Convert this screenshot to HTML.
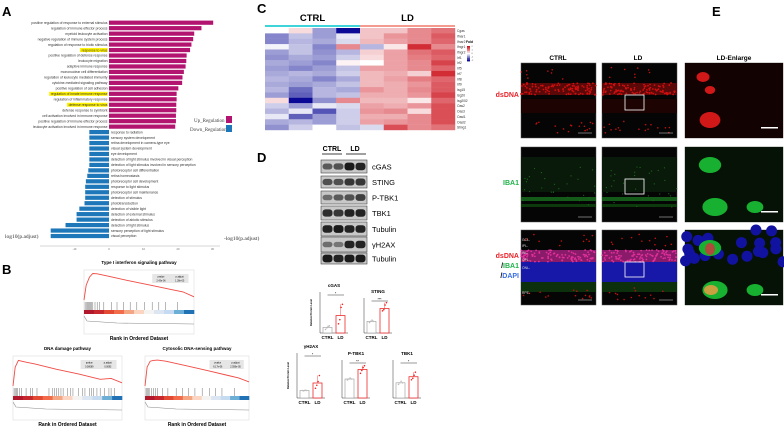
<!DOCTYPE html>
<html><head><meta charset="utf-8"><style>
body{margin:0;background:#fff}
svg{display:block;font-family:"Liberation Sans",sans-serif}
</style></head><body>
<svg id="fig" width="784" height="426" viewBox="0 0 784 426" xmlns="http://www.w3.org/2000/svg">
<g id="gA"></g>
<g id="gB"></g>
<g id="gC"></g>
<g id="gD"></g>
<g id="gE"></g>
</svg>
<script>
const NS="http://www.w3.org/2000/svg";
function mk(p,tag,at,txt){const e=document.createElementNS(NS,tag);for(const k in at)e.setAttribute(k,at[k]);if(txt!==undefined)e.textContent=txt;p.appendChild(e);return e;}

// ---------- Panel A data ----------
const upTerms=["positive regulation of response to external stimulus","regulation of immune effector process","myeloid leukocyte activation","negative regulation of immune system process","regulation of response to biotic stimulus","response to virus","positive regulation of defense response","leukocyte migration","adaptive immune response","mononuclear cell differentiation","regulation of leukocyte mediated immunity","cytokine-mediated signaling pathway","positive regulation of cell adhesion","regulation of innate immune response","regulation of inflammatory response","defense response to virus","defense response to symbiont","cell activation involved in immune response","positive regulation of immune effector process","leukocyte activation involved in immune response"];
const upValues=[30.2,26.8,24.7,24.4,23.9,23.5,22.5,22.4,22.2,21.7,21.3,21.2,20.1,19.6,19.6,19.5,19.5,19.4,19.4,19.2];
const upHighlight=[5,13,15];
const downTerms=["response to radiation","sensory system development","retina development in camera-type eye","visual system development","eye development","detection of light stimulus involved in visual perception","detection of light stimulus involved in sensory perception","photoreceptor cell differentiation","retina homeostasis","photoreceptor cell development","response to light stimulus","photoreceptor cell maintenance","detection of stimulus","phototransduction","detection of visible light","detection of external stimulus","detection of abiotic stimulus","detection of light stimulus","sensory perception of light stimulus","visual perception"];
const downValues=[5.7,5.7,5.7,5.7,5.7,5.7,5.7,6.0,6.3,6.7,6.9,6.9,6.9,7.1,8.6,9.4,9.4,12.6,16.9,16.9];
const aTicks=[-10,0,10,20,30];
(function(){
 const g=document.getElementById('gA');
 const x0=109,k=3.45,y0=22.7,step=5.47;
 const X=v=>x0+v*k;
 let t=mk(g,'text',{x:2,y:16,'font-size':13,'font-weight':'bold'},'A');
 upTerms.forEach((n,i)=>{const yc=y0+i*step;
  if(upHighlight.includes(i)){const w=n.length*1.62;const r=mk(g,'rect',{x:x0-1.5-w,y:yc-2,width:w,height:4,fill:'#fff200'});}
  const b=mk(g,'rect',{x:x0,y:yc-2.1,width:X(upValues[i])-x0,height:4.2,fill:'#b2146f'});
  
  const l=mk(g,'text',{x:x0-1.5,y:yc+1.2,'font-size':3.4,'text-anchor':'end',fill:'#333'},n);
  });
 const yd0=y0+upTerms.length*step;
 downTerms.forEach((n,i)=>{const yc=yd0+i*step;
  const b=mk(g,'rect',{x:X(-downValues[i]),y:yc-2.1,width:x0-X(-downValues[i]),height:4.2,fill:'#1d77b8'});
  
  const l=mk(g,'text',{x:x0+2,y:yc+1.2,'font-size':3.4,fill:'#333'},n);
  });
 const ay=246;
 const ax=mk(g,'line',{x1:40,x2:220,y1:ay,y2:ay,stroke:'#999','stroke-width':0.4});
 aTicks.forEach(v=>{const tk=mk(g,'text',{x:X(v),y:ay+4,'font-size':2.6,'text-anchor':'middle',fill:'#666'},v);});
 t=mk(g,'text',{x:5,y:238,'font-size':5.5,fill:'#333','font-family':'Liberation Serif'},'log10(p.adjust)');
 t=mk(g,'text',{x:224,y:240,'font-size':5.5,fill:'#333','font-family':'Liberation Serif'},'-log10(p.adjust)');
 t=mk(g,'text',{x:194,y:122,'font-size':5,fill:'#444','font-family':'Liberation Serif'},'Up_Regulation');
 t=mk(g,'rect',{x:226,y:116,width:6,height:7,fill:'#b2146f'});
 t=mk(g,'text',{x:190,y:131,'font-size':5,fill:'#444','font-family':'Liberation Serif'},'Down_Regulation');
 t=mk(g,'rect',{x:226,y:125,width:6,height:7,fill:'#1d77b8'});
})();

// ---------- Panel B data ----------
const gseaTitles=["Type I interferon signaling pathway","DNA damage pathway","Cytosolic DNA-sensing pathway"];
const esRank=[0,0.02,0.05,0.08,0.12,0.2,0.4,0.6,0.8,0.9,1.0];
const esTop=[0,0.55,0.85,0.98,0.97,0.9,0.72,0.55,0.38,0.3,0.12];
const esLeft=[0,0.7,0.95,0.92,0.88,0.82,0.62,0.45,0.25,0.28,0.12];
const esRight=[0,0.7,0.92,0.95,0.96,0.92,0.75,0.57,0.39,0.3,0.15];
const hitsTop=[0.01,0.02,0.03,0.04,0.05,0.06,0.07,0.08,0.1,0.12,0.14,0.18,0.25,0.3,0.36,0.42,0.48,0.55,0.62,0.68,0.74,0.85];
const hitsLeft=[0.01,0.02,0.03,0.04,0.06,0.08,0.12,0.16,0.18,0.22,0.33,0.36,0.38,0.4,0.42,0.44,0.46,0.5,0.53,0.55,0.6,0.64,0.66,0.7,0.72,0.74,0.77,0.8,0.84,0.88,0.9,0.93];
const hitsRight=[0.01,0.02,0.03,0.04,0.06,0.08,0.1,0.12,0.17,0.22,0.3,0.36,0.42,0.48,0.55,0.62,0.68,0.74,0.86];
const pvals=[["2.43e-06","1.28e-05"],["0.00069","0.0093"],["6.17e-06","2.556e-05"]];
(function(){
 const g=document.getElementById('gB');
 let t=mk(g,'text',{x:2,y:274,'font-size':13,'font-weight':'bold'},'B');
 const cols=["#b2182b","#c7282d","#e34a33","#f26b4a","#f4a582","#fbd5c2","#f5f2f2","#dbe6f2","#c6dbef","#6baed6","#2171b5"];
 function gsea(x,y,w,es,hits,title,pv,nm){
  const gg=mk(g,'g',{});
  const tt=mk(gg,'text',{x:x+w/2,y:y-6,'font-size':4.5,'font-weight':'bold','text-anchor':'middle'},title);
  const ch=32;
  const fr=mk(gg,'rect',{x:x,y:y,width:w,height:64,fill:'none',stroke:'#ccc','stroke-width':0.4});
  const bx=mk(gg,'rect',{x:x+w*0.62,y:y+4,width:w*0.33,height:9,fill:'#e6e6e6'});
  mk(gg,'text',{x:x+w*0.7,y:y+7.5,'font-size':2.3,'text-anchor':'middle'},'pvalue');
  mk(gg,'text',{x:x+w*0.87,y:y+7.5,'font-size':2.3,'text-anchor':'middle'},'p.adjust');
  mk(gg,'text',{x:x+w*0.7,y:y+11.5,'font-size':2.3,'text-anchor':'middle'},pv[0]);
  mk(gg,'text',{x:x+w*0.87,y:y+11.5,'font-size':2.3,'text-anchor':'middle'},pv[1]);
  const X=r=>x+r*w,Y=v=>y+ch-2-v*(ch-5);
  let d='';esRank.forEach((r,i)=>{d+=(i?' L':'M')+X(r).toFixed(1)+' '+Y(es[i]).toFixed(1);});
  const p=mk(gg,'path',{d:d,fill:'none',stroke:'#f04a44','stroke-width':0.9});
  hits.forEach(r=>{const l=mk(gg,'line',{x1:X(r),x2:X(r),y1:y+ch,y2:y+ch+8,stroke:'#333','stroke-width':0.35});});
  cols.forEach((c,i)=>{const r=mk(gg,'rect',{x:x+i*w/cols.length,y:y+ch+8,width:w/cols.length+0.3,height:4,fill:c});});
  const rp=mk(gg,'path',{d:`M${x},${y+ch+14} L${x+3},${y+ch+19} L${x+w*0.3},${y+ch+21} L${x+w},${y+ch+22}`,fill:'none',stroke:'#888','stroke-width':0.6});
  const xl=mk(gg,'text',{x:x+w/2,y:y+70,'font-size':5,'font-weight':'bold','text-anchor':'middle'},'Rank in Ordered Dataset');
 }
 gsea(84,270,110,esTop,hitsTop,gseaTitles[0],pvals[0],'gsea-type-i-interferon');
 gsea(13,356,109,esLeft,hitsLeft,gseaTitles[1],pvals[1],'gsea-dna-damage');
 gsea(145,356,104,esRight,hitsRight,gseaTitles[2],pvals[2],'gsea-cytosolic-dna-sensing');
})();

// ---------- Panel C data ----------
const genes=["Cgas","Ifnar1","Ifnar2","Ifngr1","Ifngr2","Irf1","Irf2","Irf5","Irf7","Irf8","Irf9","Isg15","Isg20","Isg20l2","Oas2","Oas3","Oasl1","Oasl2","Sting1"];
const samples=["CTRL1","CTRL2","CTRL3","CTRL4","LD1","LD2","LD3","LD4"];
const fold=[
[0,0.3,-0.8,-2,0.5,0.5,1,1.2],[-1,-0.5,-0.8,-0.2,0.5,0.9,1,1.4],[-1,-0.6,-0.7,-0.3,0.6,0.8,1,1.3],
[-0.1,-0.5,-1,1,-0.6,0.2,1.8,1],[-0.8,-0.5,-0.9,-0.6,0.4,0.8,1.2,1.4],[-0.9,-0.7,-0.8,-0.4,0.3,0.8,1.1,1.3],
[-0.7,-0.8,-1,0.1,0,0.8,1,1.6],[-0.8,-1,-0.8,-0.5,0.8,0.8,1,1.3],[-0.7,-0.6,-0.7,-0.4,0.6,0.7,0.4,1.8],
[-0.6,-0.7,-1,-0.7,0.6,0.8,1.1,1.3],[-0.7,-0.8,-0.7,-0.5,0.6,0.7,0.9,1.4],[-0.6,-1.2,-0.6,-0.7,0.9,0.7,1,1.4],
[-0.8,-1.3,-0.6,-0.5,0.7,0.7,0.9,1.6],[0.3,-2,-0.9,1,0.6,0.6,0.2,1.3],[-0.4,-0.8,-0.2,-0.3,0.8,0.7,0.9,1.5],
[-0.6,-0.2,-1.4,-0.4,0.9,1,0.3,1.5],[-0.2,-1.3,-0.8,-0.4,0.7,0.7,1,1.5],[-0.7,-0.6,-0.8,-0.4,0.8,0.9,1,1.5],
[-0.9,-0.4,0,-0.5,-0.3,1.5,1,1.2]];
(function(){
 const g=document.getElementById('gC');
 let t=mk(g,'text',{x:257,y:13,'font-size':13,'font-weight':'bold'},'C');
 const x0=265,x1=455,y0=28,y1=130,cw=(x1-x0)/samples.length,rh=(y1-y0)/genes.length;
 function col(v){v=Math.max(-2,Math.min(2,v));
  if(v>=0){const a=v/2;return `rgb(${Math.round(255-(255-205)*a)},${Math.round(255-(255-20)*a)},${Math.round(255-(255-30)*a)})`;}
  const a=-v/2;return `rgb(${Math.round(255-(255-10)*a)},${Math.round(255-(255-10)*a)},${Math.round(255-(255-150)*a)})`;}
 fold.forEach((row,i)=>row.forEach((v,j)=>{const r=mk(g,'rect',{x:x0+j*cw,y:y0+i*rh,width:cw+0.2,height:rh+0.2,fill:col(v)});}));
 genes.forEach((n,i)=>{const l=mk(g,'text',{x:x1+2,y:y0+i*rh+rh*0.75,'font-size':3.3,fill:'#333'},n);});
 t=mk(g,'rect',{x:x0,y:25,width:cw*4,height:2,fill:'#3fd4d9'});
 t=mk(g,'rect',{x:x0+cw*4,y:25,width:cw*4,height:2,fill:'#f59a8f'});
 t=mk(g,'text',{x:x0+cw*2,y:21,'font-size':9.5,'font-weight':'bold','text-anchor':'middle'},'CTRL');
 t=mk(g,'text',{x:x0+cw*6,y:21,'font-size':9.5,'font-weight':'bold','text-anchor':'middle'},'LD');
 const lg=mk(g,'g',{});
 mk(lg,'text',{x:466,y:43,'font-size':3.3,'font-weight':'bold'},'Fold');
 const lv=[2,1.5,1,0.5,0,-0.5,-1,-1.5,-2];
 lv.forEach((v,i)=>mk(lg,'rect',{x:467,y:46+i*1.7,width:3,height:1.8,fill:col(v)}));
 [["2",47],["1",50.5],["0",54],["-1",57.5],["-2",61]].forEach(a=>mk(lg,'text',{x:471.5,y:a[1],'font-size':2,fill:'#333'},a[0]));
})();

// ---------- Panel D data ----------
const blotNames=["cGAS","STING","P-TBK1","TBK1","Tubulin","γH2AX","Tubulin"];
const blotIntensity=[[0.6,0.65,0.95,0.9],[0.65,0.65,0.8,0.8],[0.5,0.6,0.65,0.75],[0.85,0.8,0.9,0.9],[0.9,0.95,0.9,0.9],[0.5,0.45,0.9,0.9],[0.95,0.9,0.95,0.95]];
const barTitles=["cGAS","STING","γH2AX","P-TBK1","TBK1"];
const ctrlMeans=[1.1,1.0,1.0,1.0,1.0];
const ldMeans=[3.4,2.1,2.0,1.5,1.4];
const ctrlPts=[[0.7,1.0,1.3,1.4],[0.9,1.0,1.1,1.0],[1.0,0.95,1.05,1.0],[0.95,1.0,1.05,1.0],[0.9,1.0,1.1,1.0]];
const ldPts=[[1.8,2.6,5.0,5.6],[1.9,2.0,2.4,2.6],[1.3,1.7,2.2,3.0],[1.3,1.45,1.6,1.7],[1.2,1.3,1.5,1.7]];
const yMax=[8,3,6,2,2.5];
const stars=["*","***","*","**","*"];
(function(){
 const g=document.getElementById('gD');
 let t=mk(g,'text',{x:257,y:162,'font-size':13,'font-weight':'bold'},'D');
 t=mk(g,'text',{x:332,y:151,'font-size':7,'font-weight':'bold','text-anchor':'middle'},'CTRL');
 t=mk(g,'text',{x:355,y:151,'font-size':7,'font-weight':'bold','text-anchor':'middle'},'LD');
 mk(g,'line',{x1:322,x2:342,y1:154,y2:154,stroke:'#000','stroke-width':0.8});mk(g,'line',{x1:346,x2:366,y1:154,y2:154,stroke:'#000','stroke-width':0.8});
 const ys=[160,176,191,206,222,237,253],hs=[13,12,13,14,14,15,11];
 blotNames.forEach((n,i)=>{
  const bg=mk(g,'g',{});
  mk(bg,'rect',{x:321,y:ys[i],width:46,height:hs[i],fill:'#c8c8c8',stroke:'#444','stroke-width':0.6});
  blotIntensity[i].forEach((v,j)=>mk(bg,'rect',{x:322.5+j*11,y:ys[i]+hs[i]/2-(1.5+v*2.5),width:10,height:3+v*5,rx:3,fill:'#111','fill-opacity':v}));
  const l=mk(g,'text',{x:372,y:ys[i]+hs[i]/2+2.8,'font-size':7.5},n);
 });
 const pos=[[320,292,333],[364,298,333],[297,353,398],[342,360,398],[393,360,398]];
 barTitles.forEach((n,i)=>{
  const [ax,yt,yb]=pos[i];const gg=mk(g,'g',{});
  const Y=v=>yb-(v/yMax[i])*(yb-yt);
  mk(gg,'line',{x1:ax,x2:ax,y1:yt,y2:yb,stroke:'#000','stroke-width':0.4});
  mk(gg,'line',{x1:ax,x2:ax+28,y1:yb,y2:yb,stroke:'#000','stroke-width':0.4});
  const tt=mk(gg,'text',{x:ax+14,y:yt-5,'font-size':4.5,'font-weight':'bold','text-anchor':'middle'},n);
  const b1=mk(gg,'rect',{x:ax+3,y:Y(ctrlMeans[i]),width:9,height:yb-Y(ctrlMeans[i]),fill:'#fff',stroke:'#999','stroke-width':0.6});
  const b2=mk(gg,'rect',{x:ax+16,y:Y(ldMeans[i]),width:9,height:yb-Y(ldMeans[i]),fill:'#fff',stroke:'#ee2a2a','stroke-width':0.8});
  ctrlPts[i].forEach((v,k)=>mk(gg,'circle',{cx:ax+5.5+k*1.3,cy:Y(v),r:0.8,fill:'#bbb'}));
  ldPts[i].forEach((v,k)=>mk(gg,'circle',{cx:ax+18.5+k*1.3,cy:Y(v),r:0.8,fill:'#e22'}));
  const mx=Math.max(...ldPts[i]);
  mk(gg,'line',{x1:ax+20.5,x2:ax+20.5,y1:Y(ldMeans[i]),y2:Y(mx),stroke:'#e22','stroke-width':0.4});
  mk(gg,'line',{x1:ax+7.5,x2:ax+24,y1:yt+3,y2:yt+3,stroke:'#000','stroke-width':0.4});
  mk(gg,'text',{x:ax+15.5,y:yt+2.5,'font-size':3.5,'text-anchor':'middle'},stars[i]);
  mk(gg,'text',{x:ax+7.5,y:yb+6,'font-size':4.5,'font-weight':'bold','text-anchor':'middle'},'CTRL');
  mk(gg,'text',{x:ax+20.5,y:yb+6,'font-size':4.5,'font-weight':'bold','text-anchor':'middle'},'LD');
  if(i==0||i==2){const yl=mk(gg,'text',{x:ax-8,y:(yt+yb)/2,'font-size':2.6,'font-weight':'bold','text-anchor':'middle',transform:`rotate(-90 ${ax-8} ${(yt+yb)/2})`},'Relative Protein Level');}
 });
})();

// ---------- Panel E (images) ----------
(function(){
 const g=document.getElementById('gE');
 let s=7;const rnd=()=>{s=(s*16807)%2147483647;return s/2147483647;};
 let t=mk(g,'text',{x:712,y:16,'font-size':13,'font-weight':'bold'},'E');
 [["CTRL",558],["LD",638],["LD-Enlarge",734]].forEach(a=>{const l=mk(g,'text',{x:a[1],y:60,'font-size':6.5,'font-weight':'bold','text-anchor':'middle'},a[0]);});
 const cx=[521,602,685],cw=[75,75,98],ry=[63,147,230],rh=75;
 for(let r=0;r<3;r++)for(let c=0;c<3;c++){
  const x=cx[c],y=ry[r],w=cw[c];
  const im=mk(g,'g',{});
  mk(im,'rect',{x:x,y:y,width:w,height:rh,fill:'#050505',stroke:'#555','stroke-width':0.5});
  if(c<2){
   if(r==0){mk(im,'rect',{x:x,y:y+20,width:w,height:12,fill:'#5a0808'});mk(im,'rect',{x:x,y:y+36,width:w,height:14,fill:'#1e0303'});}
   if(r==1){mk(im,'rect',{x:x,y:y+10,width:w,height:35,fill:'#0a1a0a'});mk(im,'rect',{x:x,y:y+50,width:w,height:4,fill:'#145a18'});mk(im,'rect',{x:x,y:y+57,width:w,height:3,fill:'#0c3a0c'});}
   if(r==2){mk(im,'rect',{x:x,y:y+32,width:w,height:20,fill:'#1818a8'});mk(im,'rect',{x:x,y:y+20,width:w,height:12,fill:'#8a1a6a'});mk(im,'rect',{x:x,y:y+52,width:w,height:10,fill:'#0c300c'});}
   if(r!=1){for(let i=0;i<110;i++)mk(im,'circle',{cx:x+rnd()*w,cy:y+20+rnd()*12,r:0.9,fill:r==2?'#e0309a':'#d01010'});
    for(let i=0;i<25;i++)mk(im,'circle',{cx:x+rnd()*w,cy:y+(rnd()<0.5?4+rnd()*12:58+rnd()*12),r:0.8,fill:'#c01010'});}
   else{for(let i=0;i<30;i++)mk(im,'circle',{cx:x+rnd()*w,cy:y+20+rnd()*40,r:0.6,fill:'#1a6a1a'});}
   if(c==1){const b=mk(im,'rect',{x:x+23,y:y+32,width:19,height:15,fill:'none',stroke:'#fff','stroke-width':0.8});}
   mk(im,'line',{x1:x+w-18,x2:x+w-4,y1:y+rh-5,y2:y+rh-5,stroke:'#ddd','stroke-width':0.5});
  } else {
   if(r==0){mk(im,'rect',{x:x,y:y,width:w,height:rh,fill:'#120202'});[[18,14,5],[25,27,4],[25,57,8]].forEach(a=>mk(im,'ellipse',{cx:x+a[0],cy:y+a[1],rx:a[2]*1.3,ry:a[2],fill:'#d01818'}));}
   if(r>=1){mk(im,'rect',{x:x,y:y,width:w,height:rh,fill:'#061206'});
    if(r==2){for(let i=0;i<22;i++)mk(im,'circle',{cx:x+rnd()*w,cy:y+rnd()*32,r:5.5,fill:'#1212a0'});}
    [[25,18,8],[30,60,9],[70,60,6]].forEach(a=>mk(im,'ellipse',{cx:x+a[0],cy:y+a[1],rx:a[2]*1.4,ry:a[2],fill:'#18b030'}));
    if(r==2){mk(im,'ellipse',{cx:x+26,cy:y+60,rx:7,ry:5,fill:'#c8a040'});mk(im,'ellipse',{cx:x+25,cy:y+19,rx:5,ry:6,fill:'#b04a3a'});}}
   mk(im,'rect',{x:x+w-22,y:y+rh-11,width:17,height:1.5,fill:'#fff'});
  }
 }
 let l=mk(g,'text',{x:519,y:97,'font-size':7,'font-weight':'bold','text-anchor':'end',fill:'#e8232a'},'dsDNA');
 l=mk(g,'text',{x:519,y:185,'font-size':7,'font-weight':'bold','text-anchor':'end',fill:'#1fb24a'},'IBA1');
 l=mk(g,'text',{x:519,y:258,'font-size':7,'font-weight':'bold','text-anchor':'end',fill:'#e8232a'},'dsDNA');
 l=mk(g,'text',{x:519,y:268,'font-size':7,'font-weight':'bold','text-anchor':'end'},'');l.innerHTML='/<tspan fill="#1fb24a">IBA1</tspan>';
 l=mk(g,'text',{x:519,y:278,'font-size':7,'font-weight':'bold','text-anchor':'end'},'');l.innerHTML='/<tspan fill="#3a6fe0">DAPI</tspan>';
 ["GCL-","IPL-","INL-","OPL-","ONL-","RPE-"].forEach((n,i)=>{const yy=[241,247,254,261,269,294][i];const q=mk(g,'text',{x:522,y:yy,'font-size':3.3,fill:'#ddd'},n);});
})();
</script>
</body></html>
